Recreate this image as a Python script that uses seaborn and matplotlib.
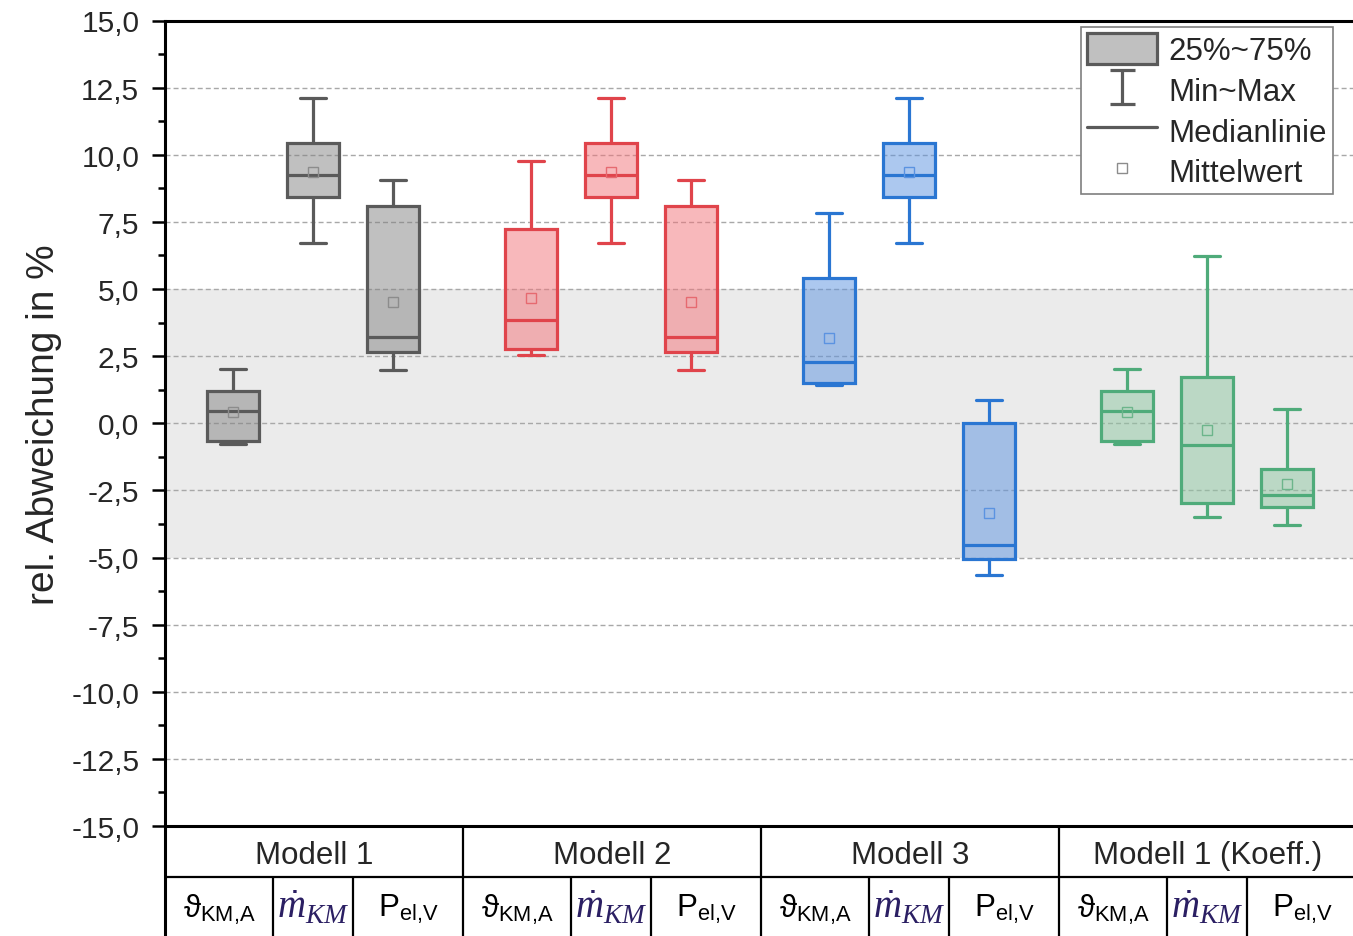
import numpy as np
import pandas as pd
import matplotlib
matplotlib.use("Agg")
import matplotlib.pyplot as plt
import seaborn as sns
from matplotlib.lines import Line2D
from matplotlib.patches import Patch
from matplotlib.path import Path
from matplotlib.ticker import MultipleLocator, FuncFormatter

# ---------------------------------------------------------------- data
models = ["Modell 1", "Modell 2", "Modell 3", "Modell 1 (Koeff.)"]
quantities = ["theta_KM_A", "mdot_KM", "P_el_V"]
quantity_labels = [r"ϑ$_{\mathregular{KM{,}A}}$", r"$\dot{m}_{KM}$", r"P$_{\mathregular{el{,}V}}$"]

# box statistics, order: per model (ϑ, ṁ, P)
v_min  = [-0.78, 6.72, 1.98,  2.56, 6.72, 1.98,  1.42, 6.72, -5.67,  -0.78, -3.49, -3.78]
v_q1   = [-0.66, 8.43, 2.64,  2.76, 8.43, 2.64,  1.49, 8.43, -5.04,  -0.66, -2.96, -3.11]
v_med  = [ 0.44, 9.26, 3.20,  3.85, 9.26, 3.20,  2.29, 9.26, -4.55,   0.44, -0.82, -2.66]
v_q3   = [ 1.20, 10.44, 8.10, 7.23, 10.44, 8.10, 5.40, 10.44, 0.00,   1.20,  1.73, -1.72]
v_max  = [ 2.01, 12.12, 9.06, 9.77, 12.12, 9.06, 7.83, 12.12, 0.87,   2.01,  6.22,  0.52]
v_mean = [ 0.42, 9.37, 4.50,  4.66, 9.37, 4.50,  3.18, 9.37, -3.33,   0.42, -0.27, -2.27]

y_ticks = [-15.0, -12.5, -10.0, -7.5, -5.0, -2.5, 0.0, 2.5, 5.0, 7.5, 10.0, 12.5, 15.0]
band = (-5.0, 5.0)

# ---------------------------------------------------------------- style
edge_cols = ["#5a5a5a", "#e0444b", "#2a76d2", "#4fab7a"]
face_cols = ["#828282", "#f37379", "#5b93e1", "#8dc7a1"]
mean_cols = ["#8c8c8c", "#e66a70", "#5b93e1", "#6cb58b"]
mdot_color = "#2b1f63"

sns.set_style("ticks")
plt.rcParams["font.family"] = ["Liberation Sans", "DejaVu Sans"]
plt.rcParams["mathtext.fontset"] = "custom"
plt.rcParams["mathtext.rm"] = "Liberation Sans"
plt.rcParams["mathtext.it"] = "Liberation Serif:italic"

GROUP_W = 3.725          # width of one model block in box-spacing units
X_LEFT = -0.85
X_RIGHT = X_LEFT + 4 * GROUP_W

# long-form table: five summary values per box reproduce its quartiles exactly
rows = []
for i in range(len(v_min)):
    g, k = divmod(i, 3)
    pos = g * GROUP_W + k
    for v in (v_min[i], v_q1[i], v_med[i], v_q3[i], v_max[i]):
        rows.append({"model": models[g], "quantity": quantities[k], "pos": pos, "value": v})
df = pd.DataFrame(rows)

fig = plt.figure(figsize=(13.53, 9.37), dpi=100)
L, B = 165 / 1353, 110 / 937
W, H = (1357 - 165) / 1353, (827 - 21.5) / 937
ax = fig.add_axes([L, B, W, H])

ax.axhspan(*band, color="#ebebeb", zorder=0, lw=0)

for g, model in enumerate(models):
    n_before = len(ax.patches)
    sns.boxplot(data=df[df["model"] == model], x="pos", y="value", native_scale=True,
                width=0.65, whis=(0, 100), showfliers=False, saturation=1,
                color=face_cols[g], linecolor=edge_cols[g], linewidth=2.3, ax=ax)
    for p in ax.patches[n_before:]:
        p.set_facecolor(matplotlib.colors.to_rgba(face_cols[g], 0.5))
        p.set_edgecolor(edge_cols[g])
    idx = slice(3 * g, 3 * g + 3)
    ax.plot(np.arange(3) + g * GROUP_W, v_mean[idx], ls="none", marker="s", ms=7,
            mfc="none", mec=mean_cols[g], mew=1.0, zorder=5)

ax.set_xlim(X_LEFT, X_RIGHT)
ax.set_ylim(-15, 15)
ax.set_xticks([])
ax.set_xlabel("")
ax.set_yticks(y_ticks)
ax.yaxis.set_minor_locator(MultipleLocator(1.25))
ax.yaxis.set_major_formatter(FuncFormatter(lambda v, _: f"{v:.1f}".replace(".", ",")))
ax.tick_params(axis="y", which="major", direction="out", length=9.5, width=1.8,
               labelsize=21.5, color="black", pad=9)
ax.tick_params(axis="y", which="minor", direction="out", length=5, width=1.8, color="black")
ax.set_axisbelow(True)
ax.yaxis.grid(True, which="major", linestyle=(0, (3.6, 2.2)), color="#a8a8a8", lw=1.0)

for side in ("left", "top", "bottom"):
    ax.spines[side].set_linewidth(2.2)
    ax.spines[side].set_color("black")
ax.spines["right"].set_visible(False)

ax.set_ylabel("rel. Abweichung in %", fontsize=28)
ax.yaxis.set_label_coords(-0.0864, 0.5)

# legend
i_marker = Path([(-0.72, 1), (0.72, 1), (0, 1), (0, -1), (-0.72, -1), (0.72, -1)],
                [Path.MOVETO, Path.LINETO, Path.MOVETO, Path.LINETO, Path.MOVETO, Path.LINETO])
handles = [
    Patch(facecolor="#c0c0c0", edgecolor="#5a5a5a", lw=2.3),
    Line2D([], [], ls="none", marker=i_marker, ms=25, mec="#5a5a5a", mew=2.3),
    Line2D([], [], color="#5a5a5a", lw=2.3),
    Line2D([], [], ls="none", marker="s", ms=7, mfc="none", mec="#8c8c8c", mew=1.0),
]
labels = ["25%~75%", "Min~Max", "Medianlinie", "Mittelwert"]
leg = ax.legend(handles, labels, loc="upper right",
                bbox_to_anchor=(1333 / 1353, 1 - 28 / 937), bbox_transform=fig.transFigure,
                borderaxespad=0, fontsize=22.5, handlelength=2.25, handleheight=1.15,
                handletextpad=0.35, labelspacing=0.24, borderpad=0.2,
                fancybox=False, framealpha=1, edgecolor="#7f7f7f")
leg.get_frame().set_linewidth(1.2)

# category table below the axis
tab = fig.add_axes([L, 0, W, B])
tab.set_xlim(X_LEFT, X_RIGHT)
tab.set_ylim(0, 1)
tab.axis("off")
y_sep = (937 - 878) / 110
lw_tab = 1.6
tab.hlines(y_sep, X_LEFT, X_RIGHT, color="black", lw=lw_tab, clip_on=False)
tab.vlines(X_LEFT, 0, 1, color="black", lw=2.2, clip_on=False)
for g, model in enumerate(models):
    g0 = X_LEFT + g * GROUP_W
    base = g * GROUP_W
    if g > 0:
        tab.vlines(g0, 0, 1, color="black", lw=lw_tab, clip_on=False)
    tab.vlines([base + 0.5, base + 1.5], 0, y_sep, color="black", lw=lw_tab, clip_on=False)
    tab.text(g0 + GROUP_W / 2, 0.74, model, ha="center", va="center", fontsize=22.5)
    centers = [(g0 + base + 0.5) / 2, base + 1.0, (base + 1.5 + g0 + GROUP_W) / 2]
    for k, lab in enumerate(quantity_labels):
        if k == 1:
            tab.text(centers[k], 0.27, lab, ha="center", va="center", fontsize=28,
                     color=mdot_color)
        else:
            tab.text(centers[k], 0.25, lab, ha="center", va="center", fontsize=22.5,
                     color="black")

fig.savefig("out.png", dpi=100)
